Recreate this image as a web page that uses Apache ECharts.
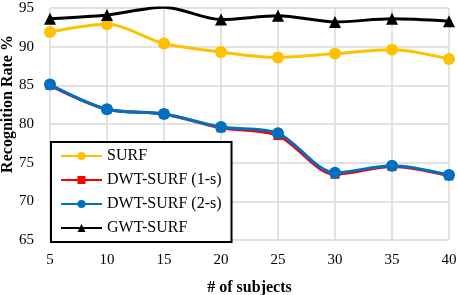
<!DOCTYPE html>
<html>
<head>
<meta charset="utf-8">
<script src="https://cdn.jsdelivr.net/npm/echarts@6/dist/echarts.min.js"></script>
<style>
  html, body { margin: 0; padding: 0; background: #fff; }
  #chart { width: 457px; height: 295px; }
</style>
</head>
<body>
<div id="chart"></div>
<script>
const subjects = [5, 10, 15, 20, 25, 30, 35, 40];
const surf = [91.9, 92.9, 90.4, 89.3, 88.6, 89.1, 89.6, 88.4];
const dwt1s = [85.0, 81.9, 81.3, 79.5, 78.5, 73.5, 74.5, 73.3];
const dwt2s = [85.1, 81.9, 81.3, 79.6, 78.8, 73.7, 74.6, 73.4];
const gwt = [93.6, 94.1, 95.1, 93.5, 94.0, 93.2, 93.6, 93.3];

const serif = '"Liberation Serif", "Times New Roman", serif';
const pairs = (ys) => subjects.map((x, i) => [x, ys[i]]);

const chart = echarts.init(document.getElementById('chart'));

const makeSeries = (name, ys, color, symbol, size, z) => ({
  name,
  type: 'line',
  data: pairs(ys),
  smooth: 0.3,
  symbol,
  symbolSize: size,
  z,
  itemStyle: { color },
  lineStyle: { color, width: 3 },
});

chart.setOption({
  animation: false,
  grid: { left: 50, right: 8, top: 8, bottom: 55, outerBoundsMode: 'none' },
  xAxis: {
    type: 'value',
    min: 5,
    max: 40,
    interval: 5,
    name: '# of subjects',
    nameLocation: 'middle',
    nameGap: 40,
    nameTextStyle: { fontFamily: serif, fontSize: 16, fontWeight: 'bold', color: '#000' },
    axisLine: { show: false },
    axisTick: { show: false },
    axisLabel: { fontFamily: serif, fontSize: 15, color: '#000', margin: 13 },
    splitLine: { show: true, lineStyle: { color: '#d9d9d9', width: 1.5 } },
  },
  yAxis: {
    type: 'value',
    min: 65,
    max: 95,
    interval: 5,
    axisLine: { show: false },
    axisTick: { show: false },
    axisLabel: { fontFamily: serif, fontSize: 15, color: '#000', margin: 16 },
    splitLine: { show: true, lineStyle: { color: '#d9d9d9', width: 1.5 } },
  },
  // y axis title sits above the plot centre in the original, so place it by hand
  graphic: [{
    type: 'text',
    x: 8,
    y: 104,
    rotation: Math.PI / 2,
    style: {
      text: 'Recognition Rate %',
      font: 'bold 16px ' + serif,
      fill: '#000',
      align: 'center',
      verticalAlign: 'middle',
    },
  }],
  legend: {
    orient: 'vertical',
    left: 51,
    top: 142,
    itemWidth: 41,
    itemHeight: 10,
    itemGap: 8,
    padding: [6, 10, 6, 9],
    backgroundColor: '#fff',
    borderColor: '#000',
    borderWidth: 2,
    borderRadius: 0,
    textStyle: { fontFamily: serif, fontSize: 16, color: '#000' },
    data: ['SURF', 'DWT-SURF (1-s)', 'DWT-SURF (2-s)', 'GWT-SURF'],
  },
  series: [
    makeSeries('SURF', surf, '#ffc000', 'circle', 12, 3),
    makeSeries('DWT-SURF (1-s)', dwt1s, '#ff0000', 'rect', 9, 2),
    makeSeries('DWT-SURF (2-s)', dwt2s, '#0070c0', 'circle', 12, 4),
    makeSeries('GWT-SURF', gwt, '#000000', 'triangle', 12, 5),
  ],
});
</script>
</body>
</html>
